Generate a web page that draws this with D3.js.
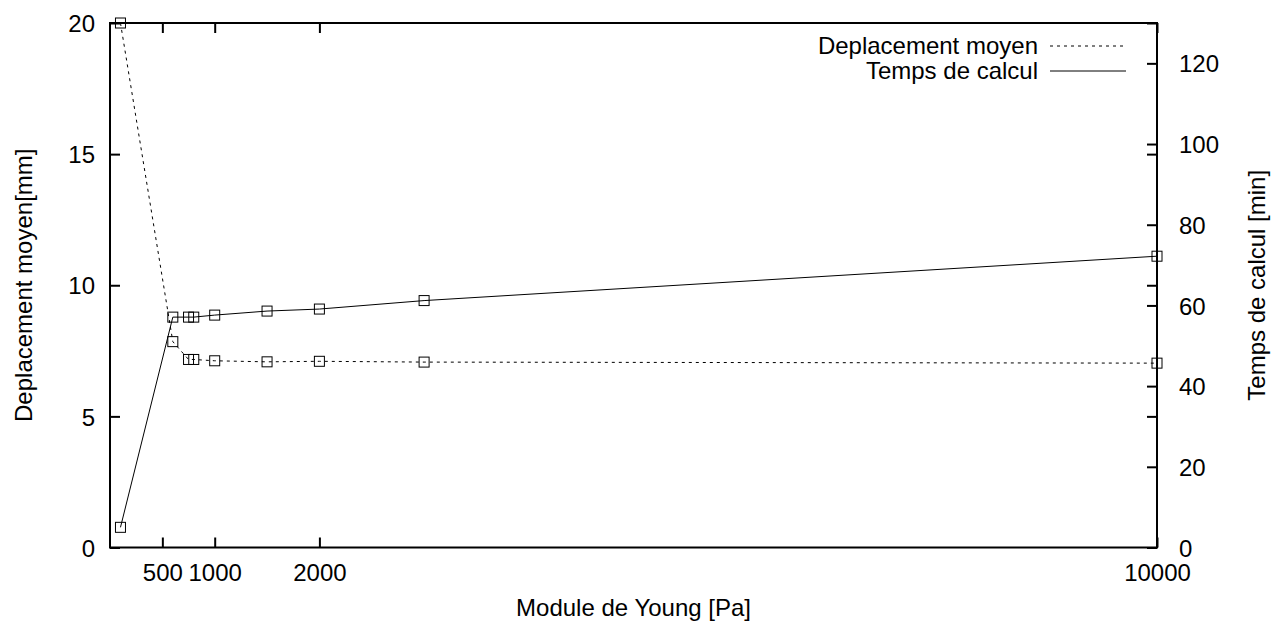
<!DOCTYPE html>
<html>
<head>
<meta charset="utf-8">
<script src="https://cdn.jsdelivr.net/npm/d3@7"></script>
<style>
  html, body { margin: 0; padding: 0; background: #fff; }
  svg { display: block; }
  text { font-family: "Liberation Sans", Arial, sans-serif; font-size: 24px; fill: #000; }
</style>
</head>
<body>
<svg id="chart" width="1271" height="622"></svg>
<script>
// ---- data ----
const youngModulus = [100, 600, 750, 800, 1000, 1500, 2000, 3000, 10000];
const deplacementMoyen = [20, 7.85, 7.17, 7.17, 7.12, 7.08, 7.1, 7.07, 7.03];
const tempsCalcul = [5, 57.1, 57.1, 57.1, 57.6, 58.6, 59.1, 61.2, 72.2];
const xTicks = [500, 1000, 2000, 10000];
const y1Ticks = [0, 5, 10, 15, 20];
const y2Ticks = [0, 20, 40, 60, 80, 100, 120];
const seriesNames = ["Deplacement moyen", "Temps de calcul"];
const xTitle = "Module de Young [Pa]";
const y1Title = "Deplacement moyen[mm]";
const y2Title = "Temps de calcul [min]";

// ---- layout ----
const L = 110, R = 1157, T = 23, B = 547.5;
const svg = d3.select("#chart");

const x = d3.scaleLinear().domain([0, 10000]).range([L, R]);
const y1 = d3.scaleLinear().domain([0, 20]).range([B, T]);
const y2 = d3.scaleLinear().domain([0, 130]).range([B, T]);

const TL = 10;
const fmt = d3.format("d");

// axes (ticks inward)
const gx = svg.append("g").attr("transform", `translate(0,${B})`)
  .call(d3.axisBottom(x).tickValues(xTicks).tickFormat(fmt).tickSizeInner(-TL).tickSizeOuter(0));
const gxTop = svg.append("g").attr("transform", `translate(0,${T})`)
  .call(d3.axisTop(x).tickValues(xTicks).tickSizeInner(-TL).tickSizeOuter(0).tickFormat(""));
const gy1 = svg.append("g").attr("transform", `translate(${L},0)`)
  .call(d3.axisLeft(y1).tickValues(y1Ticks).tickFormat(fmt).tickSizeInner(-TL).tickSizeOuter(0).tickPadding(15));
const gy1m = svg.append("g").attr("transform", `translate(${R},0)`)
  .call(d3.axisRight(y1).tickValues(y1Ticks).tickSizeInner(-TL).tickSizeOuter(0).tickFormat(""));
const gy2 = svg.append("g").attr("transform", `translate(${R},0)`)
  .call(d3.axisRight(y2).tickValues(y2Ticks).tickFormat(fmt).tickSizeInner(-TL).tickSizeOuter(0).tickPadding(22));

[gx, gxTop, gy1, gy1m, gy2].forEach(g => {
  g.select(".domain").remove();
  g.selectAll(".tick line").attr("stroke", "#000").attr("stroke-width", 2);
  g.selectAll(".tick text").attr("font-size", 24)
    .attr("font-family", '"Liberation Sans", Arial, sans-serif').attr("fill", "#000");
});
gx.selectAll(".tick text").attr("dy", "0.71em").attr("y", 16);
gy1.selectAll(".tick text").attr("dy", "0.36em");
gy2.selectAll(".tick text").attr("dy", "0.36em");

// frame
svg.append("rect").attr("x", L).attr("y", T).attr("width", R - L).attr("height", B - T)
  .attr("fill", "none").attr("stroke", "#000").attr("stroke-width", 2);

// lines
const pts1 = youngModulus.map((v, i) => [v, deplacementMoyen[i]]);
const pts2 = youngModulus.map((v, i) => [v, tempsCalcul[i]]);
const line1 = d3.line().x(d => x(d[0])).y(d => y1(d[1]));
const line2 = d3.line().x(d => x(d[0])).y(d => y2(d[1]));

svg.append("path").attr("d", line1(pts1)).attr("fill", "none")
  .attr("stroke", "#000").attr("stroke-width", 1).attr("stroke-dasharray", "3,4");
svg.append("path").attr("d", line2(pts2)).attr("fill", "none")
  .attr("stroke", "#000").attr("stroke-width", 1);

const S = 10;
function markers(pts, yScale) {
  svg.append("g").selectAll("rect").data(pts).join("rect")
    .attr("x", d => x(d[0]) - S / 2).attr("y", d => yScale(d[1]) - S / 2)
    .attr("width", S).attr("height", S)
    .attr("fill", "none").attr("stroke", "#000").attr("stroke-width", 1);
}
markers(pts1, y1);
markers(pts2, y2);

// legend
const legX1 = 1050, legX2 = 1126;
svg.append("text").attr("x", 1038).attr("y", 54).attr("text-anchor", "end").text(seriesNames[0]);
svg.append("line").attr("x1", legX1).attr("x2", legX2).attr("y1", 46).attr("y2", 46)
  .attr("stroke", "#000").attr("stroke-width", 1).attr("stroke-dasharray", "3,4");
svg.append("text").attr("x", 1038).attr("y", 79).attr("text-anchor", "end").text(seriesNames[1]);
svg.append("line").attr("x1", legX1).attr("x2", legX2).attr("y1", 71).attr("y2", 71)
  .attr("stroke", "#000").attr("stroke-width", 1);

// titles
svg.append("text").attr("x", (L + R) / 2).attr("y", 616).attr("text-anchor", "middle").text(xTitle);
svg.append("text").attr("transform", `translate(32,${(T + B) / 2}) rotate(-90)`)
  .attr("text-anchor", "middle").text(y1Title);
svg.append("text").attr("transform", `translate(1265,${(T + B) / 2}) rotate(-90)`)
  .attr("text-anchor", "middle").text(y2Title);
</script>
</body>
</html>
